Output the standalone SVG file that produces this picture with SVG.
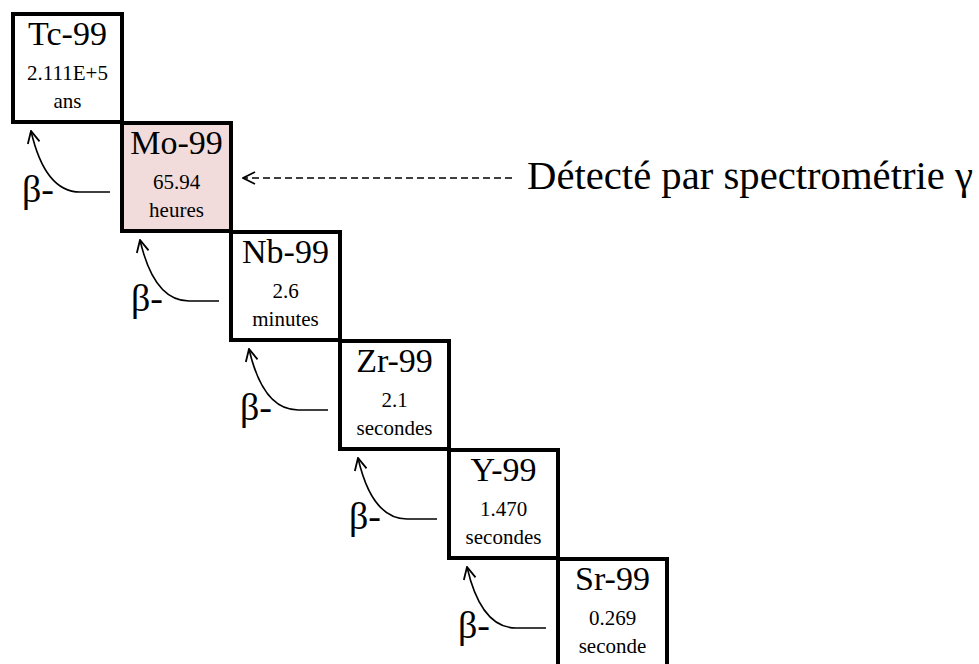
<svg xmlns="http://www.w3.org/2000/svg" width="979" height="664" viewBox="0 0 979 664">
<style>
.box{fill:#fff;stroke:#000;stroke-width:4}
.hl{fill:#f2dcdb}
.t{font-family:"Liberation Serif","DejaVu Serif",serif;fill:#000;text-anchor:middle}
.n{font-size:34px}
.s{font-size:21px}
.b{font-family:"Liberation Serif","DejaVu Serif",serif;font-size:38px;fill:#000}
.c{fill:none;stroke:#000;stroke-width:1.6}
</style>
<defs>
<marker id="ah" viewBox="0 0 14 14" refX="13" refY="7" markerWidth="14" markerHeight="14" markerUnits="userSpaceOnUse" orient="auto">
<path d="M1,1 L13,7 L1,13" fill="none" stroke="#000" stroke-width="1.8"/>
</marker>
</defs>
<rect width="979" height="664" fill="#fff"/>
<g id="connectors">
<path class="c" d="M110,192 L80,192 C55,192 40,170 31,131" marker-end="url(#ah)"/>
<path class="c" d="M219,301 L189,301 C164,301 149,279 140,240" marker-end="url(#ah)"/>
<path class="c" d="M328,410 L298,410 C273,410 258,388 249,349" marker-end="url(#ah)"/>
<path class="c" d="M437,519 L407,519 C382,519 367,497 358,458" marker-end="url(#ah)"/>
<path class="c" d="M546,628 L516,628 C491,628 476,606 467,567" marker-end="url(#ah)"/>
<line class="c" x1="512" y1="178" x2="243" y2="178" stroke-dasharray="7 4" marker-end="url(#ah)"/>
<text class="b" x="22" y="202">β-</text>
<text class="b" x="131" y="311">β-</text>
<text class="b" x="240" y="420">β-</text>
<text class="b" x="349" y="529">β-</text>
<text class="b" x="458" y="638">β-</text>
</g>
<g id="tc99">
<rect class="box" x="13" y="14" width="109" height="108"/>
<text class="t n" x="67.5" y="45">Tc-99</text>
<text class="t s" x="67.5" y="80">2.111E+5</text>
<text class="t s" x="67.5" y="108">ans</text>
</g>
<g id="mo99">
<rect class="box hl" x="122" y="123" width="109" height="108"/>
<text class="t n" x="176.5" y="154">Mo-99</text>
<text class="t s" x="176.5" y="189">65.94</text>
<text class="t s" x="176.5" y="217">heures</text>
</g>
<g id="nb99">
<rect class="box" x="231" y="232" width="109" height="108"/>
<text class="t n" x="285.5" y="263">Nb-99</text>
<text class="t s" x="285.5" y="298">2.6</text>
<text class="t s" x="285.5" y="326">minutes</text>
</g>
<g id="zr99">
<rect class="box" x="340" y="341" width="109" height="108"/>
<text class="t n" x="394.5" y="372">Zr-99</text>
<text class="t s" x="394.5" y="407">2.1</text>
<text class="t s" x="394.5" y="435">secondes</text>
</g>
<g id="y99">
<rect class="box" x="449" y="450" width="109" height="108"/>
<text class="t n" x="503.5" y="481">Y-99</text>
<text class="t s" x="503.5" y="516">1.470</text>
<text class="t s" x="503.5" y="544">secondes</text>
</g>
<g id="sr99">
<rect class="box" x="558" y="559" width="109" height="120"/>
<text class="t n" x="612.5" y="590">Sr-99</text>
<text class="t s" x="612.5" y="625">0.269</text>
<text class="t s" x="612.5" y="653">seconde</text>
</g>
<g id="label">
<text x="527" y="189" font-family="Liberation Serif, DejaVu Serif, serif" font-size="39" textLength="446" lengthAdjust="spacingAndGlyphs" fill="#000">Détecté par spectrométrie γ</text>
</g>
</svg>
